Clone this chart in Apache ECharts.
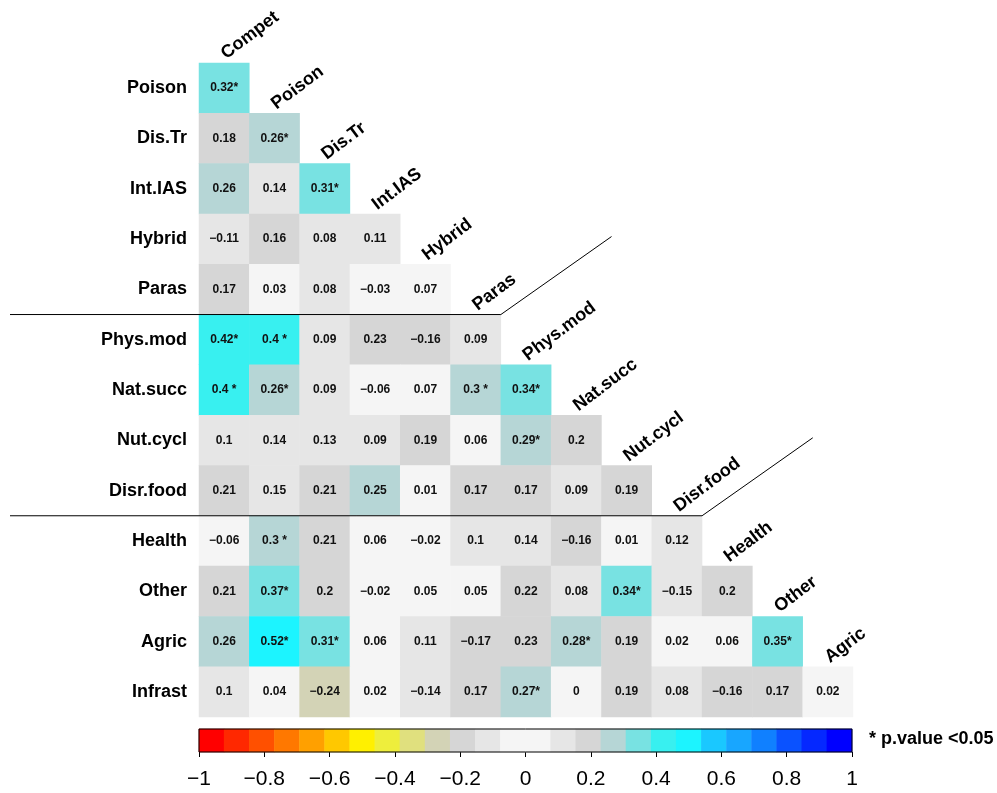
<!DOCTYPE html>
<html>
<head>
<meta charset="utf-8">
<script src="https://cdn.jsdelivr.net/npm/echarts@6/dist/echarts.min.js"></script>
<style>
html, body { margin: 0; padding: 0; background: #fff; }
#main { width: 997px; height: 793px; }
</style>
</head>
<body>
<div id="main"></div>
<script>
var rowNames = ['Poison', 'Dis.Tr', 'Int.IAS', 'Hybrid', 'Paras', 'Phys.mod', 'Nat.succ', 'Nut.cycl', 'Disr.food', 'Health', 'Other', 'Agric', 'Infrast'];
var colNames = ['Compet', 'Poison', 'Dis.Tr', 'Int.IAS', 'Hybrid', 'Paras', 'Phys.mod', 'Nat.succ', 'Nut.cycl', 'Disr.food', 'Health', 'Other', 'Agric'];

// lower triangle, one line per row
var corr = [
    [0.32],
    [0.18, 0.26],
    [0.26, 0.14, 0.31],
    [-0.11, 0.16, 0.08, 0.11],
    [0.17, 0.03, 0.08, -0.03, 0.07],
    [0.42, 0.4, 0.09, 0.23, -0.16, 0.09],
    [0.4, 0.26, 0.09, -0.06, 0.07, 0.3, 0.34],
    [0.1, 0.14, 0.13, 0.09, 0.19, 0.06, 0.29, 0.2],
    [0.21, 0.15, 0.21, 0.25, 0.01, 0.17, 0.17, 0.09, 0.19],
    [-0.06, 0.3, 0.21, 0.06, -0.02, 0.1, 0.14, -0.16, 0.01, 0.12],
    [0.21, 0.37, 0.2, -0.02, 0.05, 0.05, 0.22, 0.08, 0.34, -0.15, 0.2],
    [0.26, 0.52, 0.31, 0.06, 0.11, -0.17, 0.23, 0.28, 0.19, 0.02, 0.06, 0.35],
    [0.1, 0.04, -0.24, 0.02, -0.14, 0.17, 0.27, 0, 0.19, 0.08, -0.16, 0.17, 0.02]
];
// 1 = p.value < 0.05
var sig = [
    [1],
    [0, 1],
    [0, 0, 1],
    [0, 0, 0, 0],
    [0, 0, 0, 0, 0],
    [1, 1, 0, 0, 0, 0],
    [1, 1, 0, 0, 0, 1, 1],
    [0, 0, 0, 0, 0, 0, 1, 0],
    [0, 0, 0, 0, 0, 0, 0, 0, 0],
    [0, 1, 0, 0, 0, 0, 0, 0, 0, 0],
    [0, 1, 0, 0, 0, 0, 0, 0, 1, 0, 0],
    [0, 1, 1, 0, 0, 0, 0, 1, 0, 0, 0, 1],
    [0, 0, 0, 0, 0, 0, 1, 0, 0, 0, 0, 0, 0]
];
// rows where a new group starts (separator lines)
var groupStarts = [5, 9];

// colour key, -1 .. 1
var keyColors = [
    '#FF0000', '#FF2800', '#FF5000', '#FF7800', '#FFA000', '#FFC800', '#FFF000', '#EEEE3C', '#E0E07E', '#D3D3B6', '#D6D6D6', '#E6E6E6', '#F5F5F5',
    '#F5F5F5', '#E6E6E6', '#D6D6D6', '#B6D6D6', '#78E2E2', '#38F0F0', '#1CF4FF', '#1AC8FF', '#18A6FF', '#1080FF', '#0A52FF', '#0528FF', '#0000FF'
];

function fmt(v) {
    return String(v).replace('-', '\u2212');
}

var cellData = [];
for (var r = 0; r < corr.length; r++) {
    for (var c = 0; c < corr[r].length; c++) {
        cellData.push([c, r, corr[r][c], sig[r][c]]);
    }
}

var binW = 2 / keyColors.length;
var pieces = [];
var keyData = [];
for (var i = 0; i < keyColors.length; i++) {
    pieces.push({ gte: -1 + i * binW, lt: -1 + (i + 1) * binW, color: keyColors[i] });
    keyData.push([i, 0, -1 + (i + 0.5) * binW]);
}
pieces[pieces.length - 1].lte = 1;
delete pieces[pieces.length - 1].lt;

var font = 'Liberation Sans, Arial, sans-serif';
var chart = echarts.init(document.getElementById('main'));

var option = {
    backgroundColor: '#fff',
    animation: false,
    textStyle: { fontFamily: font },
    visualMap: {
        type: 'piecewise',
        show: false,
        seriesIndex: [0, 2],
        dimension: 2,
        pieces: pieces
    },
    grid: [
        { left: 199, top: 63, width: 654, height: 654 },
        { left: 199, top: 729, width: 653, height: 23, show: true, z: 10,
          backgroundColor: 'transparent', borderColor: '#000', borderWidth: 1 }
    ],
    xAxis: [
        { type: 'category', gridIndex: 0, data: colNames, show: false },
        { type: 'category', gridIndex: 1, data: keyColors.map(function (c, i) { return i; }), show: false, position: 'top' },
        { type: 'value', gridIndex: 1, min: -1, max: 1, interval: 0.2, position: 'bottom',
          axisLine: { show: false },
          axisTick: { show: true, length: 5, lineStyle: { color: '#000' } },
          splitLine: { show: false },
          axisLabel: { fontSize: 21, color: '#000', margin: 17,
            formatter: function (v) { return fmt(Math.round(v * 10) / 10); } } }
    ],
    yAxis: [
        { type: 'category', gridIndex: 0, data: rowNames, inverse: true,
          axisLine: { show: false }, axisTick: { show: false }, splitLine: { show: false },
          axisLabel: { fontSize: 18, fontWeight: 'bold', color: '#000', margin: 12 } },
        { type: 'category', gridIndex: 1, data: [''], show: false }
    ],
    series: [
        {
            type: 'heatmap',
            xAxisIndex: 0, yAxisIndex: 0,
            data: cellData,
            silent: true,
            label: {
                show: true,
                fontSize: 12,
                fontWeight: 'bold',
                color: '#111',
                formatter: function (p) {
                    var s = fmt(p.value[2]);
                    if (p.value[3]) s += (s.length < 4 ? ' *' : '*');
                    return s;
                }
            }
        },
        {
            type: 'scatter',
            xAxisIndex: 0, yAxisIndex: 0,
            symbolSize: 1,
            silent: true,
            itemStyle: { color: '#fff', opacity: 1 },
            data: colNames.map(function (n, j) { return { name: n, value: [j, j] }; }),
            label: {
                show: true,
                formatter: '{b}',
                position: [5, -25],
                rotate: 37,
                align: 'left',
                verticalAlign: 'bottom',
                fontSize: 18,
                fontWeight: 'bold',
                color: '#000',
                opacity: 1
            }
        },
        {
            type: 'heatmap',
            xAxisIndex: 1, yAxisIndex: 1,
            data: keyData,
            silent: true,
            label: { show: false }
        }
    ],
    graphic: [
        { type: 'text', left: 869, top: 730,
          style: { text: '* p.value <0.05', font: 'bold 18px ' + font, fill: '#000' } }
    ]
};
chart.setOption(option);

// group separator lines, positioned from the axes
var x0 = chart.convertToPixel({ xAxisIndex: 0 }, colNames[0]);
var cw = chart.convertToPixel({ xAxisIndex: 0 }, colNames[1]) - x0;
var y0 = chart.convertToPixel({ yAxisIndex: 0 }, rowNames[0]);
var rh = chart.convertToPixel({ yAxisIndex: 0 }, rowNames[1]) - y0;
var lines = groupStarts.map(function (b) {
    var y = y0 + (b - 0.5) * rh;
    var xe = x0 + (b + 0.5) * cw;
    return {
        type: 'polyline',
        z: 20,
        shape: { points: [[10, y], [xe, y], [xe + 2.2 * cw, y - 1.55 * rh]] },
        style: { stroke: '#000', lineWidth: 1, fill: null }
    };
});
chart.setOption({ graphic: option.graphic.concat(lines) });
</script>
</body>
</html>
